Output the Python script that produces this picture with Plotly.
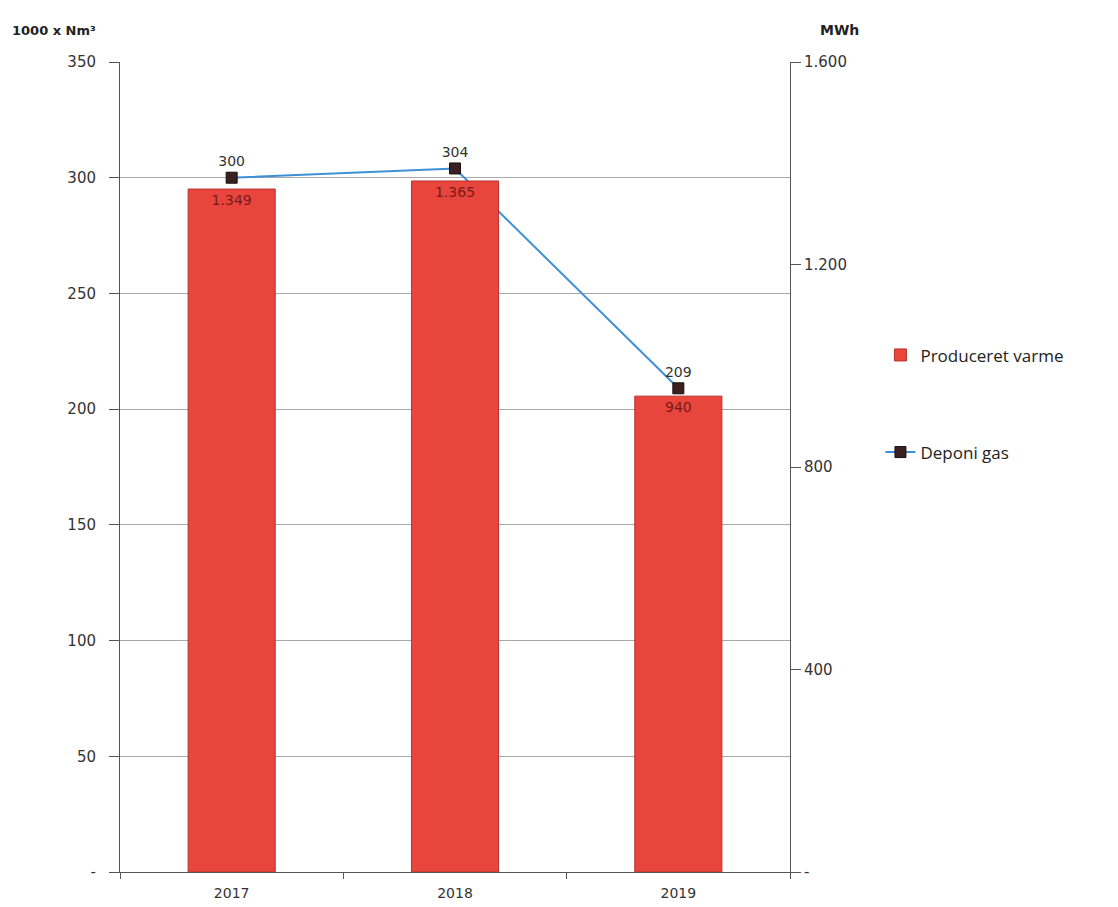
import plotly.graph_objects as go

years = ["2017", "2018", "2019"]
varme_mwh = [1349, 1365, 940]
varme_labels = ["1.349", "1.365", "940"]
gas_nm3 = [300, 304, 209]
gas_labels = ["300", "304", "209"]

left_ticks = [0, 50, 100, 150, 200, 250, 300, 350]
left_ticktext = ["-", "50", "100", "150", "200", "250", "300", "350"]
right_ticks = [0, 400, 800, 1200, 1600]
right_ticktext = ["-", "400", "800", "1.200", "1.600"]

font_main = "DejaVu Sans, Verdana, sans-serif"
font_legend = "Open Sans, Calibri, sans-serif"

fig = go.Figure()
fig.add_trace(go.Bar(
    x=years, y=varme_mwh, name="Produceret varme", yaxis="y2",
    marker=dict(color="#e8453c", line=dict(color="#b8322c", width=1)),
    width=0.39,
    text=varme_labels, textposition="inside", insidetextanchor="end",
    textfont=dict(color="#7a1a18", size=14, family=font_main),
    legendgroup="a",
))
fig.add_trace(go.Scatter(
    x=years, y=gas_nm3, name="Deponi gas", yaxis="y",
    mode="lines+markers+text",
    line=dict(color="#3d8fd6", width=2),
    marker=dict(symbol="square", size=11, color="#3a2020", line=dict(color="#1a0f0f", width=1)),
    text=gas_labels, textposition="top center",
    textfont=dict(color="#333333", size=14, family=font_main),
    legendgroup="b",
))

fig.update_layout(
    width=1118, height=907,
    margin=dict(l=112, r=336, t=54, b=43),
    paper_bgcolor="white", plot_bgcolor="white",
    font=dict(family=font_main, size=14, color="#333333"),
    showlegend=True,
    legend=dict(x=1.135, y=0.66, xanchor="left", yanchor="top",
                font=dict(family=font_legend, size=17, color="#222222"),
                traceorder="grouped", tracegroupgap=72, bgcolor="rgba(0,0,0,0)"),
    xaxis=dict(type="category", showgrid=False, showline=True, linecolor="#555555",
               ticks="outside", tickson="boundaries", ticklen=6, tickcolor="#555555",
               tickfont=dict(size=14), ticklabelstandoff=8),
    yaxis=dict(range=[0, 350], tickvals=left_ticks, ticktext=left_ticktext,
               showgrid=True, gridcolor="#a8a8a8", gridwidth=1,
               showline=True, linecolor="#555555", ticks="outside", ticklen=10,
               tickcolor="#555555", zeroline=False, tickfont=dict(size=15),
               ticklabelstandoff=10),
    yaxis2=dict(range=[0, 1600], tickvals=right_ticks, ticktext=right_ticktext,
                overlaying="y", side="right", showgrid=False,
                showline=True, linecolor="#555555", ticks="outside", ticklen=10,
                tickcolor="#555555", zeroline=False, tickfont=dict(size=15)),
)
fig.add_annotation(text="<b>1000 x Nm³</b>", xref="paper", yref="paper",
                   x=-110/670, y=1 + 32/810, xanchor="left", yanchor="middle",
                   showarrow=False, font=dict(size=13, color="#222222", family=font_main))
fig.add_annotation(text="<b>MWh</b>", xref="paper", yref="paper",
                   x=(818 - 120) / 670, y=1 + 32/810, xanchor="left", yanchor="middle",
                   showarrow=False, font=dict(size=14, color="#222222", family=font_main))

fig.write_html("out.html")
